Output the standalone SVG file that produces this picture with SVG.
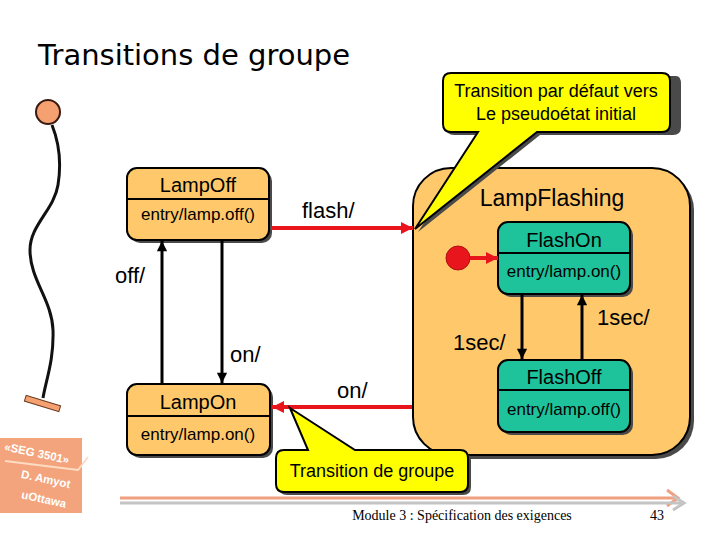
<svg xmlns="http://www.w3.org/2000/svg" width="720" height="540" viewBox="0 0 720 540">
<defs>
<marker id="ab" viewBox="0 0 10 10" refX="10" refY="5" markerWidth="4" markerHeight="3.4" orient="auto" markerUnits="strokeWidth"><path d="M0,0 L10,5 L0,10 z" fill="#000"/></marker>
<marker id="ar" viewBox="0 0 10 10" refX="10" refY="5" markerWidth="3.2" markerHeight="3" orient="auto" markerUnits="strokeWidth"><path d="M0,0 L10,5 L0,10 z" fill="#E8161C"/></marker>
</defs>
<style>
.sh{fill:#4a4a4a}
.st{fill:#FFC96B;stroke:#000;stroke-width:2}
.gr{fill:#1EC39B;stroke:#000;stroke-width:2}
.dv{stroke:#000;stroke-width:2}
.t{font-family:"Liberation Sans",Arial,sans-serif;fill:#000}
.nm{font-size:20px;text-anchor:middle}
.en{font-size:17px;text-anchor:middle}
.lb{font-size:22px}
.bl{stroke:#000;stroke-width:3;fill:none}
.rd{stroke:#E8161C;stroke-width:4;fill:none}
.co{fill:#FFFF00;stroke:#000;stroke-width:2}
.ct{font-size:18px;text-anchor:middle}
.wt{font-family:"Liberation Sans",Arial,sans-serif;fill:#fff;font-size:11.5px;font-weight:bold;text-anchor:middle}
</style>

<text x="38" y="65" font-family="DejaVu Sans, sans-serif" font-size="29" fill="#000">Transitions de groupe</text>

<g id="decoration">
<path d="M52,125 C58,140 62,160 58,185 C54,210 30,225 30,250 C30,280 52,300 53,330 C54,360 46,380 43,398" fill="none" stroke="#111" stroke-width="3"/>
<circle cx="48" cy="112" r="12" fill="#F4A070" stroke="#3a1a10" stroke-width="2"/>
<rect x="-18" y="-3" width="36" height="6" transform="translate(42.5,403.5) rotate(17)" fill="#F4A070" stroke="#6a3a20" stroke-width="1"/>
</g>

<g id="lampFlashing">
<rect x="417" y="172" width="277" height="287" rx="38" class="sh"/>
<rect x="413" y="168" width="277" height="287" rx="38" class="st"/>
<text x="552" y="206" class="t" font-size="23" text-anchor="middle">LampFlashing</text>
</g>

<g id="lampOff">
<rect x="130" y="171" width="142" height="72" rx="10" class="sh"/>
<rect x="127" y="168" width="142" height="72" rx="10" class="st"/>
<line x1="127" y1="199" x2="269" y2="199" class="dv"/>
<text x="198" y="192" class="t nm">LampOff</text>
<text x="198" y="220" class="t en">entry/lamp.off()</text>
</g>

<g id="lampOn">
<rect x="130" y="387" width="143" height="71" rx="10" class="sh"/>
<rect x="127" y="384" width="143" height="71" rx="10" class="st"/>
<line x1="127" y1="416" x2="270" y2="416" class="dv"/>
<text x="198" y="409" class="t nm">LampOn</text>
<text x="198" y="440" class="t en">entry/lamp.on()</text>
</g>

<g id="flashOn">
<rect x="501" y="225" width="132" height="72" rx="10" class="sh"/>
<rect x="498" y="222" width="132" height="72" rx="10" class="gr"/>
<line x1="498" y1="253" x2="630" y2="253" class="dv"/>
<text x="564" y="247" class="t nm">FlashOn</text>
<text x="564" y="277" class="t en">entry/lamp.on()</text>
</g>

<g id="flashOff">
<rect x="501" y="363" width="132" height="72" rx="10" class="sh"/>
<rect x="498" y="360" width="132" height="72" rx="10" class="gr"/>
<line x1="498" y1="390" x2="630" y2="390" class="dv"/>
<text x="564" y="384" class="t nm">FlashOff</text>
<text x="564" y="415" class="t en">entry/lamp.off()</text>
</g>

<g id="initial">
<circle cx="458" cy="258" r="12" fill="#E8161C" stroke="#B01010" stroke-width="1"/>
</g>

<g id="connectors">
<line x1="271" y1="228" x2="413" y2="228" class="rd" marker-end="url(#ar)"/>
<line x1="470" y1="258" x2="498" y2="258" class="rd" marker-end="url(#ar)"/>
<line x1="412" y1="407" x2="272" y2="407" class="rd" marker-end="url(#ar)"/>
<line x1="162" y1="384" x2="162" y2="241" class="bl" marker-end="url(#ab)"/>
<line x1="222" y1="240" x2="222" y2="383" class="bl" marker-end="url(#ab)"/>
<line x1="522" y1="294" x2="522" y2="359" class="bl" marker-end="url(#ab)"/>
<line x1="582" y1="360" x2="582" y2="295" class="bl" marker-end="url(#ab)"/>
<text x="302" y="218" class="t lb">flash/</text>
<text x="115" y="283" class="t lb">off/</text>
<text x="230" y="362" class="t lb">on/</text>
<text x="337" y="398" class="t lb">on/</text>
<text x="453" y="350" class="t lb">1sec/</text>
<text x="597" y="325" class="t lb">1sec/</text>
</g>

<g id="callout1">
<path d="M454,76 H676 Q681,76 681,84 V127 Q681,135 673,135 H540 L418,232 L481,135 H454 Q446,135 446,127 V84 Q446,76 454,76 Z" class="sh"/>
<path d="M451,73 H662 Q670,73 670,81 V124 Q670,132 662,132 H537 L415,229 L478,132 H451 Q443,132 443,124 V81 Q443,73 451,73 Z" class="co"/>
<text x="556" y="97" class="t ct">Transition par défaut vers</text>
<text x="556" y="120" class="t ct">Le pseudoétat initial</text>
</g>

<g id="callout2">
<path d="M287,453 H311 L293,411 L358,453 H463 Q471,453 471,461 V487 Q471,495 463,495 H287 Q279,495 279,487 V461 Q279,453 287,453 Z" class="sh"/>
<path d="M284,450 H308 L290,408 L355,450 H460 Q468,450 468,458 V484 Q468,492 460,492 H284 Q276,492 276,484 V458 Q276,450 284,450 Z" class="co"/>
<text x="372" y="477" class="t ct">Transition de groupe</text>
</g>

<g id="footer">
<rect x="0" y="438" width="82" height="75" fill="#F4A47C"/>
<path d="M5,461 L78,470 L88,457" fill="none" stroke="#FDDCC4" stroke-width="2"/>
<text class="wt" transform="translate(36,457) rotate(12)">«SEG 3501»</text>
<text class="wt" transform="translate(45,483) rotate(12)">D. Amyot</text>
<text class="wt" transform="translate(43,503) rotate(12)">uOttawa</text>
<line x1="120" y1="498" x2="676" y2="498" stroke="#F0A080" stroke-width="3"/>
<path d="M667,490 L678,498 L667,506" fill="none" stroke="#F0A080" stroke-width="3"/>
<line x1="120" y1="503" x2="681" y2="503" stroke="#C4C4C4" stroke-width="3"/>
<path d="M673,496 L684,503 L673,510" fill="none" stroke="#C4C4C4" stroke-width="3"/>
<text x="462" y="520" font-family="Liberation Serif, serif" font-size="14" text-anchor="middle" fill="#000">Module 3 : Spécification des exigences</text>
<text x="657" y="520" font-family="Liberation Serif, serif" font-size="14" text-anchor="middle" fill="#000">43</text>
</g>
</svg>
